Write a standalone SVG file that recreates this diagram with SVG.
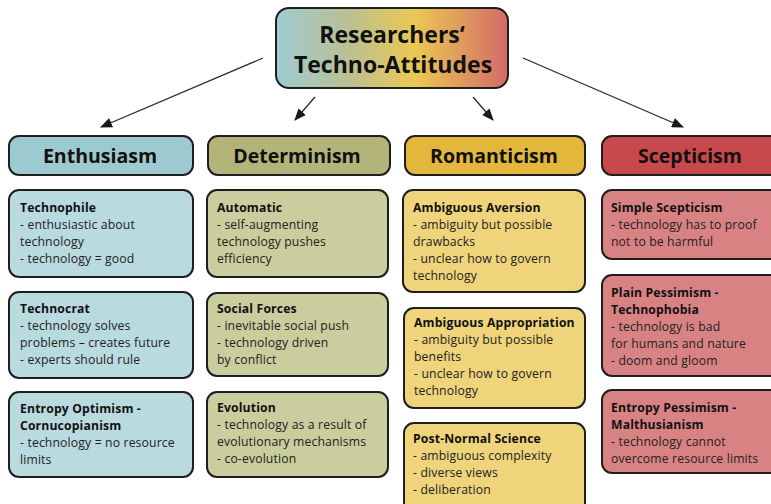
<svg xmlns="http://www.w3.org/2000/svg" width="771" height="504" viewBox="0 0 771 504">
<defs>
<linearGradient id="tg" x1="0" y1="0" x2="1" y2="0">
<stop offset="0" stop-color="#9fcbd2"/>
<stop offset="0.3" stop-color="#b9c095"/>
<stop offset="0.6" stop-color="#ebc852"/>
<stop offset="1" stop-color="#d26b68"/>
</linearGradient>
<marker id="ah" markerWidth="12" markerHeight="10" refX="11" refY="5" orient="auto" markerUnits="userSpaceOnUse">
<path d="M0,0 L12,5 L0,10 Z" fill="#1a1a1a"/>
</marker>
</defs>
<style>
.box{stroke:#1e1e1e;stroke-width:2}
.hd{font-family:"Open Sans","Noto Sans",sans-serif;font-weight:700;font-size:19.5px;fill:#111;text-anchor:middle}
.tt{font-family:"Open Sans","Noto Sans",sans-serif;font-weight:700;font-size:23px;fill:#111;text-anchor:middle}
.tx{font-family:"Open Sans","Noto Sans",sans-serif;font-size:12.2px;letter-spacing:0.15px;fill:#222}
.b{font-weight:700;fill:#111}
.conn line{stroke:#2a2a2a;stroke-width:1.3;marker-end:url(#ah)}
.e1{fill:#9dc9d0}.e2{fill:#b9dadf}
.d1{fill:#b2b479}.d2{fill:#cacd9d}
.r1{fill:#e3b73c}.r2{fill:#efd47b}
.s1{fill:#c8494b}.s2{fill:#d98283}
</style>
<rect width="771" height="504" fill="#ffffff"/>
<g id="title">
<rect class="box" x="276" y="8" width="232" height="80" rx="13" fill="url(#tg)"/>
<text class="tt" x="392" y="43">Researchers‘</text>
<text class="tt" x="393" y="73">Techno-Attitudes</text>
</g>
<g class="conn">
<line x1="263" y1="58" x2="101" y2="127"/>
<line x1="315" y1="97" x2="295" y2="120"/>
<line x1="473" y1="97" x2="493" y2="120"/>
<line x1="523" y1="58" x2="683" y2="127"/>
</g>
<g id="h-enthusiasm"><rect class="box e1" x="9" y="136" width="184" height="39" rx="10"/><text class="hd" x="100" y="163">Enthusiasm</text></g>
<g id="h-determinism"><rect class="box d1" x="208" y="136" width="182" height="39" rx="10"/><text class="hd" x="297" y="163">Determinism</text></g>
<g id="h-romanticism"><rect class="box r1" x="405" y="136" width="180" height="39" rx="10"/><text class="hd" x="494" y="163">Romanticism</text></g>
<g id="h-scepticism"><rect class="box s1" x="602" y="136" width="184" height="39" rx="10"/><text class="hd" x="690" y="163">Scepticism</text></g>

<g id="technophile"><rect class="box e2" x="9" y="190" width="184" height="87" rx="10"/>
<text class="tx" x="20"><tspan class="b" y="212">Technophile</tspan><tspan x="20" y="229">- enthusiastic about</tspan><tspan x="20" y="246">technology</tspan><tspan x="20" y="263">- technology = good</tspan></text></g>
<g id="technocrat"><rect class="box e2" x="9" y="292" width="184" height="86" rx="10"/>
<text class="tx" x="20"><tspan class="b" y="313">Technocrat</tspan><tspan x="20" y="330">- technology solves</tspan><tspan x="20" y="347">problems – creates future</tspan><tspan x="20" y="364">- experts should rule</tspan></text></g>
<g id="entropy-optimism"><rect class="box e2" x="9" y="392" width="184" height="85" rx="10"/>
<text class="tx" x="20"><tspan class="b" y="413">Entropy Optimism -</tspan><tspan class="b" x="20" y="430">Cornucopianism</tspan><tspan x="20" y="447">- technology = no resource</tspan><tspan x="20" y="464">limits</tspan></text></g>

<g id="automatic"><rect class="box d2" x="207" y="190" width="181" height="87" rx="10"/>
<text class="tx" x="217"><tspan class="b" y="212">Automatic</tspan><tspan x="217" y="229">- self-augmenting</tspan><tspan x="217" y="246">technology pushes</tspan><tspan x="217" y="263">efficiency</tspan></text></g>
<g id="social-forces"><rect class="box d2" x="207" y="293" width="181" height="83" rx="10"/>
<text class="tx" x="217"><tspan class="b" y="313">Social Forces</tspan><tspan x="217" y="330">- inevitable social push</tspan><tspan x="217" y="347">- technology driven</tspan><tspan x="217" y="364">by conflict</tspan></text></g>
<g id="evolution"><rect class="box d2" x="207" y="392" width="181" height="85" rx="10"/>
<text class="tx" x="217"><tspan class="b" y="412">Evolution</tspan><tspan x="217" y="429">- technology as a result of</tspan><tspan x="217" y="446">evolutionary mechanisms</tspan><tspan x="217" y="463">- co-evolution</tspan></text></g>

<g id="ambiguous-aversion"><rect class="box r2" x="403" y="190" width="182" height="102" rx="10"/>
<text class="tx" x="413"><tspan class="b" y="212">Ambiguous Aversion</tspan><tspan x="413" y="229">- ambiguity but possible</tspan><tspan x="413" y="246">drawbacks</tspan><tspan x="413" y="263">- unclear how to govern</tspan><tspan x="413" y="280">technology</tspan></text></g>
<g id="ambiguous-appropriation"><rect class="box r2" x="404" y="308" width="181" height="100" rx="10"/>
<text class="tx" x="414"><tspan class="b" y="327">Ambiguous Appropriation</tspan><tspan x="414" y="344">- ambiguity but possible</tspan><tspan x="414" y="361">benefits</tspan><tspan x="414" y="378">- unclear how to govern</tspan><tspan x="414" y="395">technology</tspan></text></g>
<g id="post-normal-science"><rect class="box r2" x="404" y="423" width="181" height="90" rx="10"/>
<text class="tx" x="413"><tspan class="b" y="443">Post-Normal Science</tspan><tspan x="413" y="460">- ambiguous complexity</tspan><tspan x="413" y="477">- diverse views</tspan><tspan x="413" y="494">- deliberation</tspan></text></g>

<g id="simple-scepticism"><rect class="box s2" x="602" y="190" width="184" height="69" rx="10"/>
<text class="tx" x="611"><tspan class="b" y="212">Simple Scepticism</tspan><tspan x="611" y="229">- technology has to proof</tspan><tspan x="611" y="246">not to be harmful</tspan></text></g>
<g id="plain-pessimism"><rect class="box s2" x="602" y="275" width="184" height="101" rx="10"/>
<text class="tx" x="611"><tspan class="b" y="297">Plain Pessimism -</tspan><tspan class="b" x="611" y="314">Technophobia</tspan><tspan x="611" y="331">- technology is bad</tspan><tspan x="611" y="348">for humans and nature</tspan><tspan x="611" y="365">- doom and gloom</tspan></text></g>
<g id="entropy-pessimism"><rect class="box s2" x="602" y="390" width="184" height="83" rx="10"/>
<text class="tx" x="611"><tspan class="b" y="412">Entropy Pessimism  -</tspan><tspan class="b" x="611" y="429">Malthusianism</tspan><tspan x="611" y="446">- technology cannot</tspan><tspan x="611" y="463">overcome resource limits</tspan></text></g>
</svg>
